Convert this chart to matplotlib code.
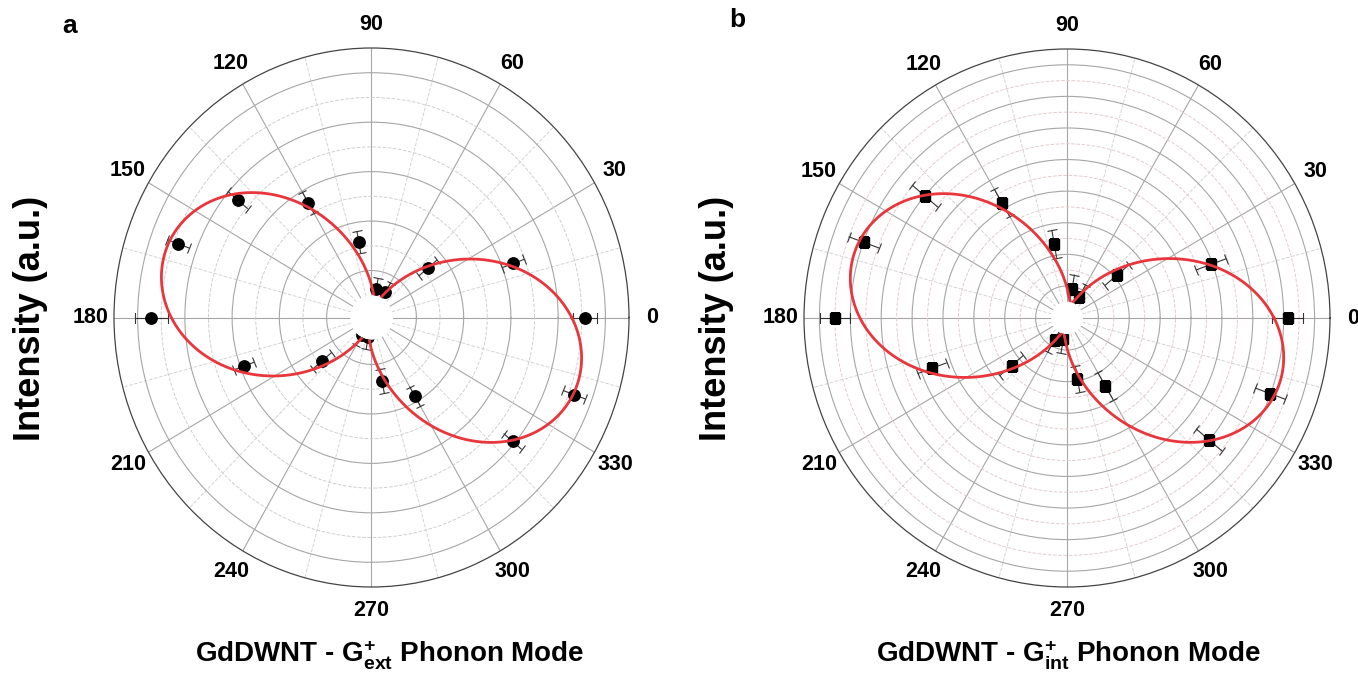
import numpy as np
import matplotlib
matplotlib.use("Agg")
import matplotlib.pyplot as plt

plt.rcParams["font.family"] = ["Liberation Sans", "DejaVu Sans"]
plt.rcParams["font.weight"] = "bold"
plt.rcParams["mathtext.fontset"] = "custom"
plt.rcParams["mathtext.rm"] = "Liberation Sans:bold"
plt.rcParams["mathtext.it"] = "Liberation Sans:bold"
plt.rcParams["mathtext.bf"] = "Liberation Sans:bold"
plt.rcParams["mathtext.default"] = "rm"

# polarization angle (deg) and Raman intensity
angles = [0, 20, 40, 60, 80, 100, 120, 140, 160, 180, 200, 220, 240, 260, 280, 300, 320, 340]

int_ext = [8.14, 5.49, 2.22, 0.27, 0.27, 2.20, 4.47, 6.49, 7.80, 8.43,
           4.84, 1.81, -0.1, -0.1, 1.70, 2.78, 6.90, 8.23]
err_ext = [0.5, 0.5, 0.5, 0.45, 0.45, 0.45, 0.5, 0.55, 0.5, 0.7,
           0.45, 0.5, 0.5, 0.5, 0.5, 0.45, 0.5, 0.5]

int_int = [13.26, 8.89, 3.17, 0.50, 0.86, 3.74, 7.39, 10.97, 12.97, 13.99,
           8.27, 3.66, 0.58, 0.32, 2.88, 3.94, 10.97, 12.97]
err_int = [1.0, 1.05, 1.0, 0.9, 0.9, 0.9, 1.0, 1.1, 1.05, 1.0,
           1.0, 1.0, 0.9, 0.9, 0.85, 1.0, 1.1, 1.05]

theta_labels = [str(a) for a in range(0, 360, 30)]


def cos2_fit(theta_deg, vals):
    # least squares fit of I = c0 + c1 cos(2t) + c2 sin(2t)  (i.e. A cos^2(t - t0) + B)
    t = np.radians(theta_deg)
    X = np.column_stack([np.ones_like(t), np.cos(2 * t), np.sin(2 * t)])
    coef, *_ = np.linalg.lstsq(X, np.asarray(vals), rcond=None)
    tt = np.radians(np.arange(0, 360.5, 0.5))
    return tt, coef[0] + coef[1] * np.cos(2 * tt) + coef[2] * np.sin(2 * tt)


def polar_panel(ax, vals, errs, rmax, rorigin, marker, ms, dash_col):
    ax.set_aspect("auto")
    th = np.radians(angles)
    tt, fit = cos2_fit(angles, vals)

    ax.errorbar(th, vals, yerr=errs, fmt=marker, color="black", ms=ms,
                ecolor="#333333", elinewidth=0.8, capsize=3.5, capthick=0.8, zorder=3)
    ax.plot(tt, fit, color="#e8363c", lw=2.0, zorder=4)

    ax.set_ylim(0, rmax)
    ax.set_rorigin(rorigin)
    ax.set_yticks(np.arange(1, rmax, 2))
    ax.set_yticks(np.arange(2, rmax, 2), minor=True)
    ax.set_yticklabels([])
    ax.tick_params(axis="y", which="both", length=0)

    ax.set_xticks(np.radians(np.arange(0, 360, 30)))
    ax.set_xticklabels(theta_labels, fontsize=15.5, fontweight="bold")
    ax.set_xticks(np.radians(np.arange(15, 360, 30)), minor=True)
    ax.tick_params(axis="x", which="major", direction="in", length=7, width=0.8,
                   color="#444444", pad=10)
    ax.tick_params(axis="x", which="minor", direction="in", length=4.5, width=0.8,
                   color="#444444")

    ax.grid(True, which="major", color="#a6a6a6", lw=0.8, ls="-")
    ax.grid(True, which="minor", axis="x", color="#d4d4d4", lw=0.7, ls="--")
    ax.grid(True, which="minor", axis="y", color=dash_col, lw=0.7, ls="--")

    ax.spines["polar"].set_color("#444444")
    ax.spines["polar"].set_linewidth(0.9)
    for name in ["inner", "start", "end"]:
        if name in ax.spines:
            ax.spines[name].set_visible(False)
            ax.spines[name].set_linewidth(0)
            ax.spines[name].set_edgecolor("none")


fig = plt.figure(figsize=(13.58, 6.76), dpi=100)

ax_a = fig.add_axes([114 / 1358, 89 / 676, 515 / 1358, 539 / 676], projection="polar")
polar_panel(ax_a, int_ext, err_ext, 10, -0.9, "o", 8.2, "#cfcfcf")

ax_b = fig.add_axes([804 / 1358, 89 / 676, 526 / 1358, 538 / 676], projection="polar")
polar_panel(ax_b, int_int, err_int, 16, -1.03, "s", 7.5, "#e2cccc")

fig.text(70 / 1358, 1 - 26 / 676, "a", fontsize=19, fontweight="bold", ha="center", va="center")
fig.text(737 / 1358, 1 - 20 / 676, "b", fontsize=19, fontweight="bold", ha="center", va="center")

fig.text(30 / 1358, 1 - 318 / 676, "Intensity (a.u.)", rotation=90, fontsize=26,
         fontweight="bold", ha="center", va="center")
fig.text(717 / 1358, 1 - 318 / 676, "Intensity (a.u.)", rotation=90, fontsize=26,
         fontweight="bold", ha="center", va="center")

fig.text(390 / 1358, 1 - 655 / 676, r"GdDWNT - G$^{+}_{ext}$ Phonon Mode", fontsize=20,
         fontweight="bold", ha="center", va="center")
fig.text(1068 / 1358, 1 - 655 / 676, r"GdDWNT - G$^{+}_{int}$ Phonon Mode", fontsize=20,
         fontweight="bold", ha="center", va="center")

fig.savefig("out.png", dpi=100)
